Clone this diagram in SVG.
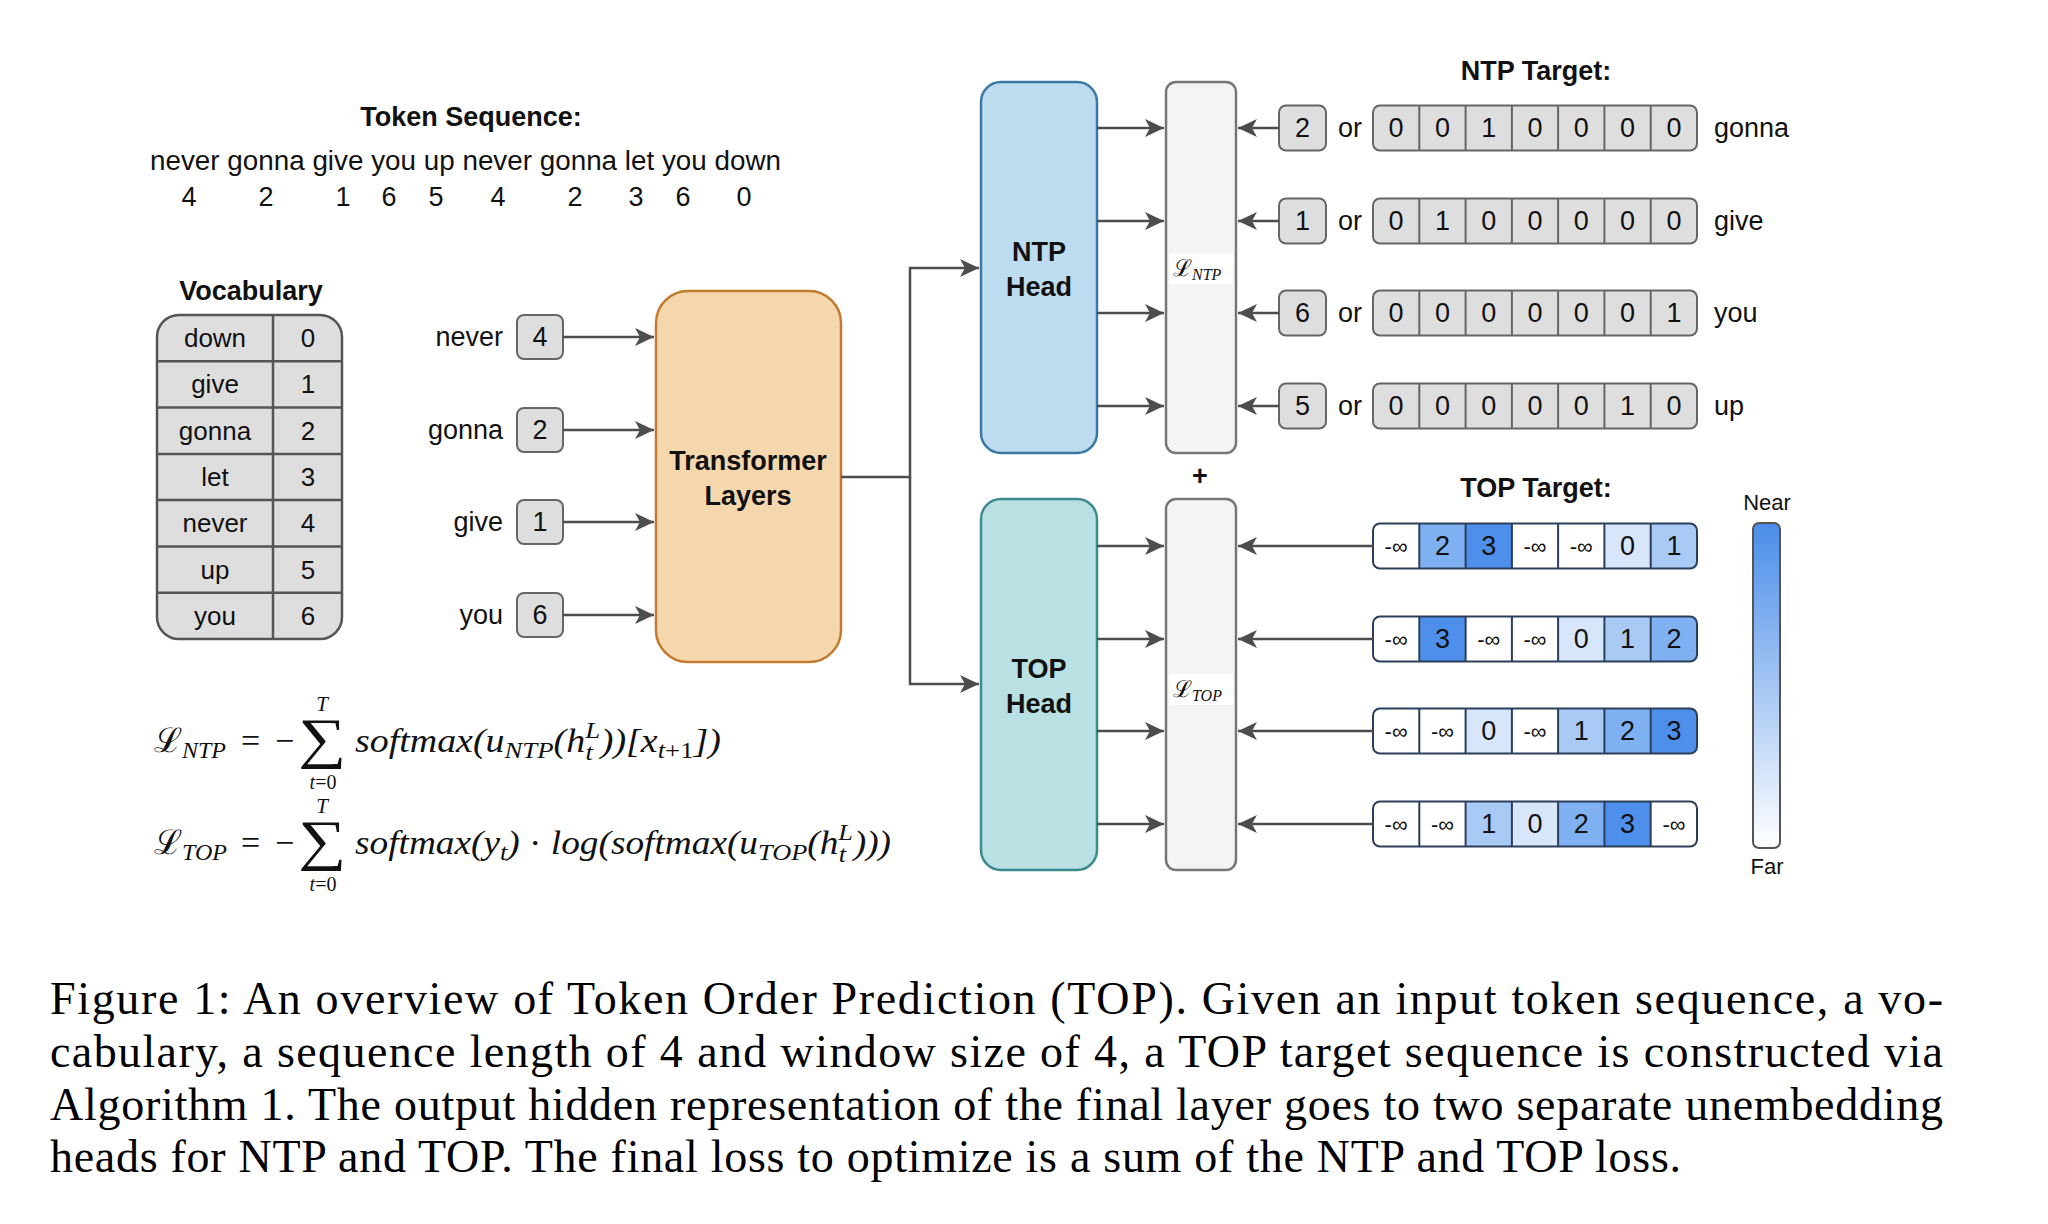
<svg xmlns="http://www.w3.org/2000/svg" width="2048" height="1224" viewBox="0 0 2048 1224">
<defs>
<style>
.sans{font-family:"Liberation Sans",Arial,sans-serif;fill:#111}
.lbl{font-size:27px}
.tbl{font-size:26px}
.bold{font-weight:bold;font-size:27px}
.gbox{fill:#dedede;stroke:#666;stroke-width:2}
.cell{stroke:#666;stroke-width:2}
.tcell{stroke:#2b3f5a;stroke-width:2}
.conn{fill:none;stroke:#4d4d4d;stroke-width:2.5}
.math{font-family:"Liberation Serif","Times New Roman",serif;font-style:italic;fill:#111}
.rm{font-family:"Liberation Serif","Times New Roman",serif;font-style:normal;fill:#111}
.scr{font-family:"DejaVu Serif","Liberation Serif",serif;font-style:normal;fill:#111}
.cap{font-family:"Liberation Serif","Times New Roman",serif;font-size:46px;fill:#000}
.inf{font-size:22px}
</style>
<marker id="ah" markerWidth="20" markerHeight="18" refX="19" refY="9" orient="auto" markerUnits="userSpaceOnUse">
<path d="M0,0 L19,9 L0,18 L5,9 Z" fill="#4d4d4d"/>
</marker>
<linearGradient id="grad" x1="0" y1="0" x2="0" y2="1">
<stop offset="0" stop-color="#4a8de9"/>
<stop offset="1" stop-color="#ffffff"/>
</linearGradient>
<clipPath id="r1"><rect x="1373" y="523.5" width="324" height="45" rx="7"/></clipPath>
<clipPath id="r2"><rect x="1373" y="616.5" width="324" height="45" rx="7"/></clipPath>
<clipPath id="r3"><rect x="1373" y="708.5" width="324" height="45" rx="7"/></clipPath>
<clipPath id="r4"><rect x="1373" y="801.5" width="324" height="45" rx="7"/></clipPath>
</defs>
<rect width="2048" height="1224" fill="#fff"/>

<!-- Token sequence -->
<g id="token-sequence" class="sans">
<text x="471" y="126" text-anchor="middle" class="bold">Token Sequence:</text>
<text x="150" y="170" class="lbl" textLength="631" lengthAdjust="spacingAndGlyphs">never gonna give you up never gonna let you down</text>
<g class="lbl" text-anchor="middle">
<text x="189" y="206">4</text><text x="266" y="206">2</text><text x="343" y="206">1</text><text x="389" y="206">6</text><text x="436" y="206">5</text><text x="498" y="206">4</text><text x="575" y="206">2</text><text x="636" y="206">3</text><text x="683" y="206">6</text><text x="744" y="206">0</text>
</g>
</g>

<!-- Vocabulary -->
<g id="vocabulary" class="sans">
<text x="251" y="300" text-anchor="middle" class="bold">Vocabulary</text>
<rect x="157" y="315" width="185" height="324" rx="22" fill="#dedede" stroke="#555" stroke-width="2.5"/>
<g stroke="#555" stroke-width="2.5">
<line x1="273" y1="315" x2="273" y2="639"/>
<line x1="157" y1="361.3" x2="342" y2="361.3"/>
<line x1="157" y1="407.6" x2="342" y2="407.6"/>
<line x1="157" y1="453.9" x2="342" y2="453.9"/>
<line x1="157" y1="500.1" x2="342" y2="500.1"/>
<line x1="157" y1="546.4" x2="342" y2="546.4"/>
<line x1="157" y1="592.7" x2="342" y2="592.7"/>
</g>
<g class="tbl" text-anchor="middle">
<text x="215" y="347">down</text><text x="308" y="347">0</text>
<text x="215" y="393">give</text><text x="308" y="393">1</text>
<text x="215" y="440">gonna</text><text x="308" y="440">2</text>
<text x="215" y="486">let</text><text x="308" y="486">3</text>
<text x="215" y="532">never</text><text x="308" y="532">4</text>
<text x="215" y="579">up</text><text x="308" y="579">5</text>
<text x="215" y="625">you</text><text x="308" y="625">6</text>
</g>
</g>

<!-- Input tokens -->
<g id="input-never" class="sans"><text x="503" y="346" text-anchor="end" class="lbl">never</text><rect x="517" y="315" width="46" height="44" rx="7" class="gbox"/><text x="540" y="346" text-anchor="middle" class="lbl">4</text></g>
<g id="input-gonna" class="sans"><text x="503" y="439" text-anchor="end" class="lbl">gonna</text><rect x="517" y="408" width="46" height="44" rx="7" class="gbox"/><text x="540" y="439" text-anchor="middle" class="lbl">2</text></g>
<g id="input-give" class="sans"><text x="503" y="531" text-anchor="end" class="lbl">give</text><rect x="517" y="500" width="46" height="44" rx="7" class="gbox"/><text x="540" y="531" text-anchor="middle" class="lbl">1</text></g>
<g id="input-you" class="sans"><text x="503" y="624" text-anchor="end" class="lbl">you</text><rect x="517" y="593" width="46" height="44" rx="7" class="gbox"/><text x="540" y="624" text-anchor="middle" class="lbl">6</text></g>

<!-- Transformer -->
<g id="transformer" class="sans">
<rect x="656" y="291" width="185" height="371" rx="32" fill="#f5d7ae" stroke="#c27b2e" stroke-width="2.5"/>
<text x="748" y="470" text-anchor="middle" class="bold">Transformer</text>
<text x="748" y="505" text-anchor="middle" class="bold">Layers</text>
</g>

<!-- Heads -->
<g id="ntp-head" class="sans">
<rect x="981" y="82" width="116" height="371" rx="20" fill="#bddcef" stroke="#3b78a3" stroke-width="2.5"/>
<text x="1039" y="261" text-anchor="middle" class="bold">NTP</text>
<text x="1039" y="296" text-anchor="middle" class="bold">Head</text>
</g>
<g id="top-head" class="sans">
<rect x="981" y="499" width="116" height="371" rx="20" fill="#b9e1e3" stroke="#3b8a8e" stroke-width="2.5"/>
<text x="1039" y="678" text-anchor="middle" class="bold">TOP</text>
<text x="1039" y="713" text-anchor="middle" class="bold">Head</text>
</g>

<!-- Loss boxes -->
<g id="ntp-loss">
<rect x="1166" y="82" width="70" height="371" rx="10" fill="#f4f4f4" stroke="#777" stroke-width="2.5"/>
<rect x="1169" y="253" width="64" height="31" fill="#fff"/>
<text x="1173" y="276" class="scr" font-size="23">ℒ<tspan class="math" font-size="16" dy="4">NTP</tspan></text>
</g>
<g id="top-loss">
<rect x="1166" y="499" width="70" height="371" rx="10" fill="#f4f4f4" stroke="#777" stroke-width="2.5"/>
<rect x="1169" y="674" width="64" height="31" fill="#fff"/>
<text x="1173" y="697" class="scr" font-size="23">ℒ<tspan class="math" font-size="16" dy="4">TOP</tspan></text>
</g>
<text x="1200" y="485" text-anchor="middle" class="sans bold" font-size="24">+</text>

<!-- NTP target -->
<g id="ntp-target" class="sans">
<text x="1536" y="80" text-anchor="middle" class="bold">NTP Target:</text>
</g>
<g id="ntp-row1" class="sans">
<rect x="1279" y="105.5" width="47" height="45" rx="7" class="gbox"/><text x="1302.5" y="137" text-anchor="middle" class="lbl">2</text>
<text x="1350" y="137" text-anchor="middle" class="lbl">or</text>
<rect x="1373" y="105.5" width="324" height="45" rx="7" class="gbox"/>
<path d="M1419.3,105.5V150.5M1465.6,105.5V150.5M1511.9,105.5V150.5M1558.1,105.5V150.5M1604.4,105.5V150.5M1650.7,105.5V150.5" class="cell"/>
<g class="lbl" text-anchor="middle"><text x="1396.1" y="137">0</text><text x="1442.4" y="137">0</text><text x="1488.7" y="137">1</text><text x="1535" y="137">0</text><text x="1581.3" y="137">0</text><text x="1627.6" y="137">0</text><text x="1673.9" y="137">0</text></g>
<text x="1714" y="137" class="lbl">gonna</text>
</g>
<g id="ntp-row2" class="sans">
<rect x="1279" y="198.5" width="47" height="45" rx="7" class="gbox"/><text x="1302.5" y="230" text-anchor="middle" class="lbl">1</text>
<text x="1350" y="230" text-anchor="middle" class="lbl">or</text>
<rect x="1373" y="198.5" width="324" height="45" rx="7" class="gbox"/>
<path d="M1419.3,198.5V243.5M1465.6,198.5V243.5M1511.9,198.5V243.5M1558.1,198.5V243.5M1604.4,198.5V243.5M1650.7,198.5V243.5" class="cell"/>
<g class="lbl" text-anchor="middle"><text x="1396.1" y="230">0</text><text x="1442.4" y="230">1</text><text x="1488.7" y="230">0</text><text x="1535" y="230">0</text><text x="1581.3" y="230">0</text><text x="1627.6" y="230">0</text><text x="1673.9" y="230">0</text></g>
<text x="1714" y="230" class="lbl">give</text>
</g>
<g id="ntp-row3" class="sans">
<rect x="1279" y="290.5" width="47" height="45" rx="7" class="gbox"/><text x="1302.5" y="322" text-anchor="middle" class="lbl">6</text>
<text x="1350" y="322" text-anchor="middle" class="lbl">or</text>
<rect x="1373" y="290.5" width="324" height="45" rx="7" class="gbox"/>
<path d="M1419.3,290.5V335.5M1465.6,290.5V335.5M1511.9,290.5V335.5M1558.1,290.5V335.5M1604.4,290.5V335.5M1650.7,290.5V335.5" class="cell"/>
<g class="lbl" text-anchor="middle"><text x="1396.1" y="322">0</text><text x="1442.4" y="322">0</text><text x="1488.7" y="322">0</text><text x="1535" y="322">0</text><text x="1581.3" y="322">0</text><text x="1627.6" y="322">0</text><text x="1673.9" y="322">1</text></g>
<text x="1714" y="322" class="lbl">you</text>
</g>
<g id="ntp-row4" class="sans">
<rect x="1279" y="383.5" width="47" height="45" rx="7" class="gbox"/><text x="1302.5" y="415" text-anchor="middle" class="lbl">5</text>
<text x="1350" y="415" text-anchor="middle" class="lbl">or</text>
<rect x="1373" y="383.5" width="324" height="45" rx="7" class="gbox"/>
<path d="M1419.3,383.5V428.5M1465.6,383.5V428.5M1511.9,383.5V428.5M1558.1,383.5V428.5M1604.4,383.5V428.5M1650.7,383.5V428.5" class="cell"/>
<g class="lbl" text-anchor="middle"><text x="1396.1" y="415">0</text><text x="1442.4" y="415">0</text><text x="1488.7" y="415">0</text><text x="1535" y="415">0</text><text x="1581.3" y="415">0</text><text x="1627.6" y="415">1</text><text x="1673.9" y="415">0</text></g>
<text x="1714" y="415" class="lbl">up</text>
</g>

<!-- TOP target -->
<g id="top-target" class="sans">
<text x="1536" y="497" text-anchor="middle" class="bold">TOP Target:</text>
</g>
<g id="top-row1" class="sans">
<g clip-path="url(#r1)">
<rect x="1373" y="523.5" width="46.3" height="45" fill="#fff"/><rect x="1419.3" y="523.5" width="46.3" height="45" fill="#7eb0f2"/><rect x="1465.6" y="523.5" width="46.3" height="45" fill="#4d8fea"/><rect x="1511.9" y="523.5" width="46.3" height="45" fill="#fff"/><rect x="1558.1" y="523.5" width="46.3" height="45" fill="#fff"/><rect x="1604.4" y="523.5" width="46.3" height="45" fill="#d7e6fb"/><rect x="1650.7" y="523.5" width="46.3" height="45" fill="#aacaf6"/>
</g>
<rect x="1373" y="523.5" width="324" height="45" rx="7" fill="none" class="tcell"/>
<path d="M1419.3,523.5V568.5M1465.6,523.5V568.5M1511.9,523.5V568.5M1558.1,523.5V568.5M1604.4,523.5V568.5M1650.7,523.5V568.5" class="tcell"/>
<g text-anchor="middle"><text x="1396.1" y="554" class="inf">-∞</text><text x="1442.4" y="555" class="lbl">2</text><text x="1488.7" y="555" class="lbl">3</text><text x="1535" y="554" class="inf">-∞</text><text x="1581.3" y="554" class="inf">-∞</text><text x="1627.6" y="555" class="lbl">0</text><text x="1673.9" y="555" class="lbl">1</text></g>
</g>
<g id="top-row2" class="sans">
<g clip-path="url(#r2)">
<rect x="1373" y="616.5" width="46.3" height="45" fill="#fff"/><rect x="1419.3" y="616.5" width="46.3" height="45" fill="#4d8fea"/><rect x="1465.6" y="616.5" width="46.3" height="45" fill="#fff"/><rect x="1511.9" y="616.5" width="46.3" height="45" fill="#fff"/><rect x="1558.1" y="616.5" width="46.3" height="45" fill="#d7e6fb"/><rect x="1604.4" y="616.5" width="46.3" height="45" fill="#aacaf6"/><rect x="1650.7" y="616.5" width="46.3" height="45" fill="#7eb0f2"/>
</g>
<rect x="1373" y="616.5" width="324" height="45" rx="7" fill="none" class="tcell"/>
<path d="M1419.3,616.5V661.5M1465.6,616.5V661.5M1511.9,616.5V661.5M1558.1,616.5V661.5M1604.4,616.5V661.5M1650.7,616.5V661.5" class="tcell"/>
<g text-anchor="middle"><text x="1396.1" y="647" class="inf">-∞</text><text x="1442.4" y="648" class="lbl">3</text><text x="1488.7" y="647" class="inf">-∞</text><text x="1535" y="647" class="inf">-∞</text><text x="1581.3" y="648" class="lbl">0</text><text x="1627.6" y="648" class="lbl">1</text><text x="1673.9" y="648" class="lbl">2</text></g>
</g>
<g id="top-row3" class="sans">
<g clip-path="url(#r3)">
<rect x="1373" y="708.5" width="46.3" height="45" fill="#fff"/><rect x="1419.3" y="708.5" width="46.3" height="45" fill="#fff"/><rect x="1465.6" y="708.5" width="46.3" height="45" fill="#d7e6fb"/><rect x="1511.9" y="708.5" width="46.3" height="45" fill="#fff"/><rect x="1558.1" y="708.5" width="46.3" height="45" fill="#aacaf6"/><rect x="1604.4" y="708.5" width="46.3" height="45" fill="#7eb0f2"/><rect x="1650.7" y="708.5" width="46.3" height="45" fill="#4d8fea"/>
</g>
<rect x="1373" y="708.5" width="324" height="45" rx="7" fill="none" class="tcell"/>
<path d="M1419.3,708.5V753.5M1465.6,708.5V753.5M1511.9,708.5V753.5M1558.1,708.5V753.5M1604.4,708.5V753.5M1650.7,708.5V753.5" class="tcell"/>
<g text-anchor="middle"><text x="1396.1" y="739" class="inf">-∞</text><text x="1442.4" y="739" class="inf">-∞</text><text x="1488.7" y="740" class="lbl">0</text><text x="1535" y="739" class="inf">-∞</text><text x="1581.3" y="740" class="lbl">1</text><text x="1627.6" y="740" class="lbl">2</text><text x="1673.9" y="740" class="lbl">3</text></g>
</g>
<g id="top-row4" class="sans">
<g clip-path="url(#r4)">
<rect x="1373" y="801.5" width="46.3" height="45" fill="#fff"/><rect x="1419.3" y="801.5" width="46.3" height="45" fill="#fff"/><rect x="1465.6" y="801.5" width="46.3" height="45" fill="#aacaf6"/><rect x="1511.9" y="801.5" width="46.3" height="45" fill="#d7e6fb"/><rect x="1558.1" y="801.5" width="46.3" height="45" fill="#7eb0f2"/><rect x="1604.4" y="801.5" width="46.3" height="45" fill="#4d8fea"/><rect x="1650.7" y="801.5" width="46.3" height="45" fill="#fff"/>
</g>
<rect x="1373" y="801.5" width="324" height="45" rx="7" fill="none" class="tcell"/>
<path d="M1419.3,801.5V846.5M1465.6,801.5V846.5M1511.9,801.5V846.5M1558.1,801.5V846.5M1604.4,801.5V846.5M1650.7,801.5V846.5" class="tcell"/>
<g text-anchor="middle"><text x="1396.1" y="832" class="inf">-∞</text><text x="1442.4" y="832" class="inf">-∞</text><text x="1488.7" y="833" class="lbl">1</text><text x="1535" y="833" class="lbl">0</text><text x="1581.3" y="833" class="lbl">2</text><text x="1627.6" y="833" class="lbl">3</text><text x="1673.9" y="832" class="inf">-∞</text></g>
</g>

<!-- Legend -->
<g id="legend" class="sans">
<text x="1767" y="510" text-anchor="middle" font-size="22">Near</text>
<rect x="1753" y="523" width="27" height="325" rx="6" fill="url(#grad)" stroke="#555" stroke-width="2"/>
<text x="1767" y="874" text-anchor="middle" font-size="22">Far</text>
</g>

<!-- Connectors -->
<g id="connectors" class="conn">
<path d="M563,337H654" marker-end="url(#ah)"/>
<path d="M563,430H654" marker-end="url(#ah)"/>
<path d="M563,522H654" marker-end="url(#ah)"/>
<path d="M563,615H654" marker-end="url(#ah)"/>
<path d="M841,477H910V268H979" marker-end="url(#ah)"/>
<path d="M910,477V684H979" marker-end="url(#ah)"/>
<path d="M1097,128H1164" marker-end="url(#ah)"/>
<path d="M1097,221H1164" marker-end="url(#ah)"/>
<path d="M1097,313H1164" marker-end="url(#ah)"/>
<path d="M1097,406H1164" marker-end="url(#ah)"/>
<path d="M1097,546H1164" marker-end="url(#ah)"/>
<path d="M1097,639H1164" marker-end="url(#ah)"/>
<path d="M1097,731H1164" marker-end="url(#ah)"/>
<path d="M1097,824H1164" marker-end="url(#ah)"/>
<path d="M1279,128H1238" marker-end="url(#ah)"/>
<path d="M1279,221H1238" marker-end="url(#ah)"/>
<path d="M1279,313H1238" marker-end="url(#ah)"/>
<path d="M1279,406H1238" marker-end="url(#ah)"/>
<path d="M1373,546H1238" marker-end="url(#ah)"/>
<path d="M1373,639H1238" marker-end="url(#ah)"/>
<path d="M1373,731H1238" marker-end="url(#ah)"/>
<path d="M1373,824H1238" marker-end="url(#ah)"/>
</g>

<!-- Formulas -->
<g id="formula-ntp">
<text x="154" y="752" class="scr" font-size="34">ℒ<tspan class="math" font-size="24" dy="6">NTP</tspan><tspan class="rm" x="241" y="752">=</tspan><tspan class="rm" x="275" y="752">−</tspan></text>
<text x="298" y="757" class="rm" font-size="56" textLength="48" lengthAdjust="spacingAndGlyphs">∑</text>
<text x="322" y="711" class="math" font-size="21" text-anchor="middle">T</text>
<text x="323" y="789" font-size="20" text-anchor="middle"><tspan class="math">t</tspan><tspan class="rm">=0</tspan></text>
<text x="355" y="752" class="math" font-size="34" textLength="366" lengthAdjust="spacingAndGlyphs">softmax(u<tspan font-size="24" dy="6">NTP</tspan><tspan dy="-6">(h</tspan><tspan font-size="24" dy="-14">L</tspan><tspan font-size="24" dx="-13" dy="22">t</tspan><tspan dx="7" dy="-8">))[x</tspan><tspan font-size="24" dy="6">t<tspan class="rm">+1</tspan></tspan><tspan dy="-6">])</tspan></text>
</g>
<g id="formula-top">
<text x="154" y="854" class="scr" font-size="34">ℒ<tspan class="math" font-size="24" dy="6">TOP</tspan><tspan class="rm" x="241" y="854">=</tspan><tspan class="rm" x="275" y="854">−</tspan></text>
<text x="298" y="859" class="rm" font-size="56" textLength="48" lengthAdjust="spacingAndGlyphs">∑</text>
<text x="322" y="813" class="math" font-size="21" text-anchor="middle">T</text>
<text x="323" y="891" font-size="20" text-anchor="middle"><tspan class="math">t</tspan><tspan class="rm">=0</tspan></text>
<text x="355" y="854" class="math" font-size="34" textLength="536" lengthAdjust="spacingAndGlyphs">softmax(y<tspan font-size="24" dy="6">t</tspan><tspan dy="-6">) </tspan><tspan class="rm">·</tspan><tspan> log(softmax(u</tspan><tspan font-size="24" dy="6">TOP</tspan><tspan dy="-6">(h</tspan><tspan font-size="24" dy="-14">L</tspan><tspan font-size="24" dx="-13" dy="22">t</tspan><tspan dx="7" dy="-8">)))</tspan></text>
</g>

<!-- Caption -->
<g id="caption" class="cap">
<text x="50" y="1014" textLength="1893" lengthAdjust="spacing">Figure 1:  An overview of Token Order Prediction (TOP). Given an input token sequence, a vo-</text>
<text x="50" y="1067" textLength="1893" lengthAdjust="spacing">cabulary, a sequence length of 4 and window size of 4, a TOP target sequence is constructed via</text>
<text x="50" y="1120" textLength="1893" lengthAdjust="spacing">Algorithm 1. The output hidden representation of the final layer goes to two separate unembedding</text>
<text x="50" y="1172" textLength="1631" lengthAdjust="spacing">heads for NTP and TOP. The final loss to optimize is a sum of the NTP and TOP loss.</text>
</g>
</svg>
